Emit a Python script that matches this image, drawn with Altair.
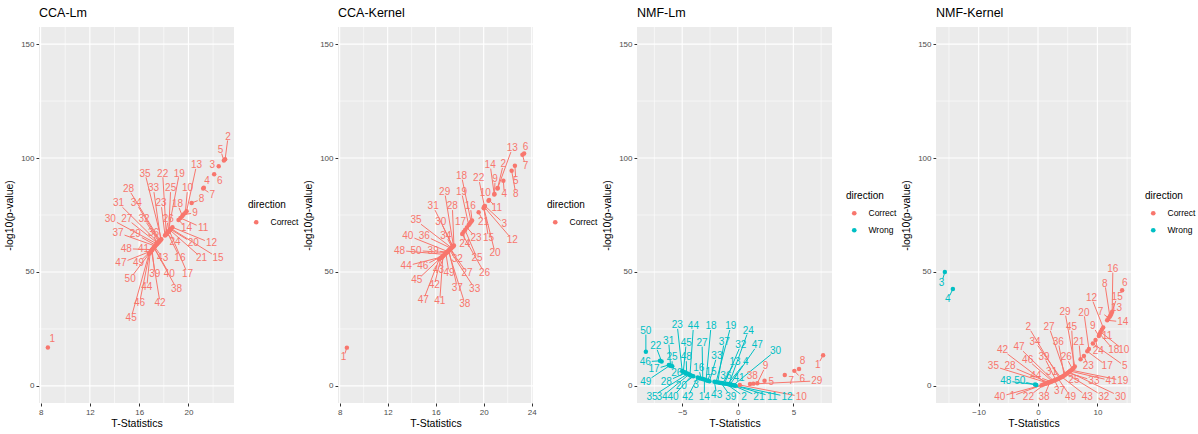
import math
import altair as alt
import pandas as pd

FONT = "Liberation Sans"
COLORS = {"Correct": "#F8766D", "Wrong": "#00BFC4"}
ids = list(range(1, 51))

# ---------------- CCA-Lm ----------------
cca_lm_t = [8.59, 22.98, 22.46, 21.25, 22.88, 22.09, 21.20, 20.26, 19.60, 19.75,
            19.35, 18.70, 19.85, 19.20, 18.60, 18.30, 18.45, 19.50, 18.35, 18.55,
            18.50, 18.20, 18.10, 18.25, 18.40, 18.15, 17.50, 17.70, 17.35, 17.45,
            17.55, 17.60, 17.75, 17.65, 17.80, 17.40, 17.30, 17.20, 17.05, 17.20,
            17.10, 17.00, 17.25, 16.90, 16.80, 16.85, 16.98, 17.05, 17.15, 16.95]
cca_lm_p = [16.9, 99.5, 96.4, 87.0, 98.9, 92.9, 86.6, 80.3, 75.2, 76.0,
            73.7, 69.6, 76.6, 72.8, 69.0, 67.2, 68.1, 74.6, 67.5, 68.7,
            68.4, 66.6, 66.0, 66.9, 67.8, 66.3, 62.6, 63.8, 61.7, 62.3,
            62.9, 63.2, 64.1, 63.5, 64.4, 62.0, 61.4, 60.7, 59.7, 60.8,
            60.1, 59.4, 61.1, 58.7, 58.0, 58.3, 59.2, 59.8, 60.4, 59.0]
cca_lm_dir = ["Correct"] * 50
cca_lm_lab_t = [8.94, 23.22, 21.93, 21.52, 22.60, 22.55, 21.93, 21.06, 20.53, 19.93,
                21.20, 21.87, 20.66, 19.85, 22.41, 19.31, 19.93, 19.12, 19.26, 20.39,
                21.06, 17.91, 17.78, 18.91, 18.56, 18.37, 15.00, 15.14, 15.68, 13.66,
                14.33, 16.40, 17.16, 15.76, 16.48, 17.16, 14.28, 19.04, 17.27, 18.45,
                16.35, 17.70, 17.91, 16.62, 15.35, 16.03, 14.52, 14.95, 15.95, 15.27]
cca_lm_lab_p = [20.4, 109.4, 96.9, 89.9, 103.6, 89.9, 83.8, 81.9, 75.9, 86.7,
                69.2, 62.6, 96.9, 69.2, 56.2, 56.2, 49.2, 79.8, 93.2, 62.6,
                56.2, 93.2, 80.1, 63.1, 86.7, 73.3, 73.3, 86.4, 66.7, 73.3,
                80.1, 73.3, 86.7, 80.1, 93.2, 67.2, 67.2, 42.7, 49.2, 49.2,
                60.2, 36.4, 56.1, 43.3, 29.9, 36.4, 53.9, 60.2, 53.9, 47.1]

# ---------------- CCA-Kernel ----------------
cca_k_t = [8.60, 21.15, 20.10, 21.64, 22.60, 23.37, 23.23, 22.33, 20.90, 20.40,
           20.45, 20.05, 21.17, 20.88, 20.00, 19.03, 18.85, 18.95, 18.75, 20.02,
           19.58, 20.07, 18.60, 18.33, 18.45, 18.21, 17.20, 17.52, 17.48, 17.40,
           17.44, 17.24, 17.15, 17.36, 17.32, 17.28, 17.10, 17.05, 16.95, 17.00,
           16.60, 16.45, 16.80, 16.52, 16.38, 16.65, 16.29, 16.75, 16.85, 16.90]
cca_k_p = [16.8, 86.6, 79.0, 90.0, 96.6, 102.0, 101.4, 94.4, 84.2, 81.3,
           81.6, 78.5, 86.8, 84.0, 78.2, 72.6, 71.3, 72.0, 70.6, 78.0,
           76.2, 78.7, 69.5, 67.6, 68.4, 66.7, 60.0, 61.6, 61.4, 61.0,
           61.2, 60.2, 59.7, 60.8, 60.6, 60.4, 59.5, 59.2, 58.7, 59.0,
           56.9, 56.3, 58.0, 56.6, 56.0, 57.2, 55.6, 57.7, 58.2, 58.5]
cca_k_dir = ["Correct"] * 50
cca_k_lab_t = [8.33, 21.64, 21.72, 21.72, 22.68, 23.48, 23.48, 22.68, 20.95, 20.13,
               21.09, 22.38, 22.38, 20.54, 20.40, 18.89, 18.07, 18.15, 18.15, 20.95,
               19.99, 19.58, 19.36, 18.43, 19.44, 20.07, 18.62, 17.39, 16.75, 16.42,
               15.79, 17.80, 19.25, 16.84, 14.37, 15.05, 17.80, 18.43, 15.79, 13.68,
               16.34, 15.88, 16.23, 13.54, 14.42, 14.92, 14.97, 12.99, 17.11, 14.37]
cca_k_lab_p = [12.5, 97.3, 71.1, 84.2, 89.9, 105.0, 96.6, 84.2, 90.8, 84.5,
               78.1, 64.2, 104.3, 97.0, 65.0, 78.8, 72.1, 92.2, 85.2, 58.3,
               71.8, 91.1, 65.0, 62.4, 56.1, 49.5, 49.5, 78.8, 85.2, 72.1,
               78.8, 55.8, 42.7, 66.0, 72.6, 66.0, 43.1, 36.1, 59.4, 66.0,
               37.2, 44.1, 51.0, 52.6, 46.3, 52.6, 37.6, 59.4, 49.5, 59.4]

# ---------------- NMF-Lm ----------------
nmf_lm_t = [7.68, -1.05, -3.45, -0.90, 2.41, 5.09, 4.23, 5.51, 1.76, 0.18,
            -0.30, -0.20, -1.35, -3.00, -2.70, -3.30, -6.20, -2.85, -1.95, -4.00,
            -0.50, -6.85, -5.00, -0.80, -5.90, -4.80, -3.15, -4.70, 1.10, -0.40,
            -6.05, -1.20, -2.55, -4.40, -4.50, -1.65, -1.80, 1.40, -1.50, -4.15,
            -0.60, -3.60, -2.10, -4.30, -4.90, -7.00, -0.70, -4.60, -6.10, -8.27]
nmf_lm_p = [13.5, 0.9, 3.4, 0.8, 2.3, 6.6, 4.8, 7.4, 1.2, 0.4,
            0.2, 0.1, 1.15, 2.8, 2.3, 3.2, 9.2, 2.5, 1.7, 4.2,
            0.4, 10.7, 6.5, 0.7, 8.6, 6.0, 3.0, 5.7, 0.8, 0.3,
            8.9, 1.0, 2.0, 5.0, 5.3, 1.4, 1.55, 1.0, 1.3, 4.5,
            0.5, 3.7, 1.8, 4.8, 6.2, 11.0, 0.6, 5.5, 9.0, 15.0]
nmf_lm_dir = ["Correct", "Wrong", "Wrong", "Wrong", "Correct", "Correct", "Correct", "Correct", "Correct", "Correct",
              "Wrong", "Wrong", "Wrong", "Wrong", "Wrong", "Wrong", "Wrong", "Wrong", "Wrong", "Wrong",
              "Wrong", "Wrong", "Wrong", "Wrong", "Wrong", "Wrong", "Wrong", "Wrong", "Correct", "Wrong",
              "Wrong", "Wrong", "Wrong", "Wrong", "Wrong", "Wrong", "Wrong", "Correct", "Wrong", "Wrong",
              "Wrong", "Wrong", "Wrong", "Wrong", "Wrong", "Wrong", "Wrong", "Wrong", "Wrong", "Wrong"]
nmf_lm_lab_t = [7.20, 0.57, -3.75, 0.71, 3.01, 5.80, 4.82, 5.83, 2.50, 5.71,
                3.10, 4.43, -0.24, -3.01, -2.41, -3.51, -7.53, -2.41, -0.63, -5.09,
                1.90, -7.38, -5.45, 0.95, -5.92, -5.48, -3.21, -6.43, 7.11, 3.39,
                -6.22, 0.27, -1.88, -6.82, -7.71, -1.07, -1.22, 1.31, -0.63, -5.83,
                0.12, -4.49, -1.90, -3.99, -4.64, -8.33, 1.76, -4.64, -8.27, -8.27]
nmf_lm_lab_p = [9.2, -4.7, 0.4, 10.6, 1.9, 2.9, 2.3, 10.9, 8.7, -4.7,
                -4.7, -4.7, 10.6, -4.7, 6.3, 7.7, 7.3, 26.2, 26.2, 0.1,
                -4.7, 17.5, 26.7, 24.2, 12.5, 5.5, 18.9, 1.9, 2.2, 15.4,
                19.8, 17.9, 13.1, -4.7, -4.7, 4.4, 19.4, 4.4, -4.7, -4.7,
                3.6, -4.7, -3.9, 26.2, 18.9, 10.6, 17.9, 12.5, 1.9, 24.2]

# ---------------- NMF-Kernel ----------------
nmf_k_t = [0.90, 3.60, -15.69, -14.34, 9.24, 14.17, 11.90, 12.10, 10.25, 10.53,
           10.75, 10.98, 12.21, 11.65, 12.35, 12.49, 8.30, 10.40, 5.60, 8.57,
           7.17, 1.20, 7.73, 9.69, 4.20, 5.80, 4.60, 1.80, 6.20, 5.20,
           3.20, 4.80, 5.00, 3.80, 1.60, 4.40, 2.80, 2.00, 3.00, 0.60,
           5.40, 1.40, 4.00, 2.20, 6.00, 2.40, 2.60, -0.50, 3.40, -0.28]
nmf_k_p = [0.6, 3.4, 50.0, 42.5, 18.6, 42.0, 29.8, 30.5, 21.9, 23.7,
           24.6, 25.6, 31.0, 28.8, 31.7, 32.5, 15.2, 22.8, 6.9, 16.2,
           11.7, 0.9, 13.1, 20.1, 4.25, 7.4, 4.95, 1.45, 8.5, 6.1,
           2.9, 5.3, 5.7, 3.65, 1.3, 4.6, 2.45, 1.65, 2.65, 0.3,
           6.5, 1.1, 3.95, 1.85, 7.9, 2.05, 2.25, 0.6, 3.15, 0.4]
nmf_k_dir = ["Correct", "Correct", "Wrong", "Wrong", "Correct", "Correct", "Correct", "Correct", "Correct", "Correct",
             "Correct", "Correct", "Correct", "Correct", "Correct", "Correct", "Correct", "Correct", "Correct", "Correct",
             "Correct", "Correct", "Correct", "Correct", "Correct", "Correct", "Correct", "Correct", "Correct", "Correct",
             "Correct", "Correct", "Correct", "Correct", "Correct", "Correct", "Correct", "Correct", "Correct", "Correct",
             "Correct", "Correct", "Correct", "Correct", "Correct", "Correct", "Correct", "Wrong", "Correct", "Wrong"]
nmf_k_lab_t = [-4.31, -1.62, -16.25, -15.18, 14.62, 14.62, 10.53, 11.26, 9.24, 14.45,
               11.65, 9.02, 13.22, 14.29, 13.33, 12.61, 11.65, 12.77, 14.29, 7.73,
               6.89, -1.62, 8.46, 10.14, 6.05, 4.76, 1.85, -4.71, 4.54, 13.89,
               2.30, 11.09, 9.41, -0.50, -7.51, 3.42, 3.64, 1.01, 1.01, -6.44,
               12.32, -5.99, 8.29, -0.39, 5.66, -1.74, -3.19, -5.43, 5.49, -3.08]
nmf_k_lab_p = [-4.4, 25.9, 45.2, 38.0, 8.7, 45.2, 32.5, 44.9, 26.2, 15.7,
               22.0, 38.6, 34.4, 28.1, 39.0, 51.4, 8.7, 15.7, 2.3, 32.2,
               19.4, -4.7, 8.7, 15.4, 2.6, 12.5, 25.9, 8.7, 32.5, -4.7,
               6.3, -4.7, 2.3, 19.4, 8.7, 19.4, -2.2, -4.7, 12.8, -4.7,
               2.3, 15.7, -4.7, 4.4, 25.9, 11.4, 16.9, 2.2, -4.7, 2.2]

y_ticks = [0, 50, 100, 150]
y_minor = [25, 75, 125]
y_limits = [0, 150]

W, H = 195, 376
LABEL_SIZE = 10


def build_panel(title, t, p, dirs, lt, lp, xmajor, xminor, legend_y):
    lo, hi = min(t), max(t)
    ext = (hi - lo) * 0.05
    xdom = [lo - ext, hi + ext]
    yext = (y_limits[1] - y_limits[0]) * 0.05
    ydom = [y_limits[0] - yext, y_limits[1] + yext]

    def to_px(x, y):
        return ((x - xdom[0]) / (xdom[1] - xdom[0]) * W,
                H - (y - ydom[0]) / (ydom[1] - ydom[0]) * H)

    def to_data(a, b):
        return (xdom[0] + a / W * (xdom[1] - xdom[0]),
                ydom[0] + (H - b) / H * (ydom[1] - ydom[0]))

    pts = pd.DataFrame({"id": ids, "t": t, "p": p, "direction": dirs,
                        "lt": lt, "lp": lp, "label": [str(i) for i in ids]})
    segs = []
    for i in range(len(ids)):
        ppx, ppy = to_px(t[i], p[i])
        lpx, lpy = to_px(lt[i], lp[i])
        hw = len(str(ids[i])) * LABEL_SIZE * 0.28 + 1.0
        hh = LABEL_SIZE * 0.38
        dx, dy = ppx - lpx, ppy - lpy
        s = min(hw / abs(dx) if abs(dx) > 1e-9 else 1e9,
                hh / abs(dy) if abs(dy) > 1e-9 else 1e9)
        if s >= 1:
            continue
        ex, ey = lpx + dx * s, lpy + dy * s
        if math.hypot(ppx - ex, ppy - ey) < 5:
            continue
        dxe, dye = to_data(ex, ey)
        segs.append({"t": t[i], "p": p[i], "et": dxe, "ep": dye, "direction": dirs[i]})
    segs = pd.DataFrame(segs)

    present = [c for c in ["Correct", "Wrong"] if c in dirs]
    cscale = alt.Scale(domain=present, range=[COLORS[c] for c in present])
    legend = alt.Legend(orient="none", legendX=209, legendY=legend_y, title="direction",
                        titleFont=FONT, titleFontSize=10, titleFontWeight="normal",
                        titleColor="black", titlePadding=8, labelFont=FONT,
                        labelFontSize=8.5, labelColor="black", symbolType="circle",
                        symbolSize=22, symbolStrokeWidth=0, rowPadding=8,
                        symbolOffset=4, labelOffset=10, padding=0)
    color = alt.Color("direction:N", scale=cscale, legend=legend)

    xscale = alt.Scale(domain=xdom, nice=False, zero=False)
    yscale = alt.Scale(domain=ydom, nice=False, zero=False)
    xaxis = alt.Axis(values=xmajor, title="T-Statistics", grid=False, labelFlush=False,
                     labelOverlap=False, format="d")
    yaxis = alt.Axis(values=y_ticks, title="-log10(p-value)", grid=False, labelFlush=False,
                     labelOverlap=False, format="d")

    xmaj = pd.DataFrame({"v": [v for v in xmajor if xdom[0] <= v <= xdom[1]]})
    xmin = pd.DataFrame({"v": [v for v in xminor if xdom[0] <= v <= xdom[1]]})
    ymaj = pd.DataFrame({"v": y_ticks})
    ymin = pd.DataFrame({"v": y_minor})

    g_xmin = alt.Chart(xmin).mark_rule(color="white", strokeWidth=0.55).encode(
        x=alt.X("v:Q", scale=xscale, axis=xaxis))
    g_xmaj = alt.Chart(xmaj).mark_rule(color="white", strokeWidth=1.1).encode(
        x=alt.X("v:Q", scale=xscale, axis=xaxis))
    g_ymin = alt.Chart(ymin).mark_rule(color="white", strokeWidth=0.55).encode(
        y=alt.Y("v:Q", scale=yscale, axis=yaxis))
    g_ymaj = alt.Chart(ymaj).mark_rule(color="white", strokeWidth=1.1).encode(
        y=alt.Y("v:Q", scale=yscale, axis=yaxis))

    seg = alt.Chart(segs).mark_rule(strokeWidth=1.0).encode(
        x=alt.X("t:Q", scale=xscale, axis=xaxis),
        y=alt.Y("p:Q", scale=yscale, axis=yaxis),
        x2="et:Q", y2="ep:Q", color=color)
    dots = alt.Chart(pts).mark_circle(size=20, opacity=1).encode(
        x=alt.X("t:Q", scale=xscale, axis=xaxis),
        y=alt.Y("p:Q", scale=yscale, axis=yaxis),
        color=color)
    txt = alt.Chart(pts).mark_text(font=FONT, fontSize=LABEL_SIZE, align="center",
                                   baseline="middle").encode(
        x=alt.X("lt:Q", scale=xscale, axis=xaxis),
        y=alt.Y("lp:Q", scale=yscale, axis=yaxis),
        text="label:N", color=color)

    return alt.layer(g_xmin, g_xmaj, g_ymin, g_ymaj, seg, dots, txt).properties(
        width=W, height=H,
        title=alt.TitleParams(text=title, anchor="start", fontSize=12.5, fontWeight="normal",
                              font=FONT, color="black", offset=7, frame="group"))


p1 = build_panel("CCA-Lm", cca_lm_t, cca_lm_p, cca_lm_dir, cca_lm_lab_t, cca_lm_lab_p,
                 [8, 12, 16, 20], [10, 14, 18, 22], 173)
p2 = build_panel("CCA-Kernel", cca_k_t, cca_k_p, cca_k_dir, cca_k_lab_t, cca_k_lab_p,
                 [8, 12, 16, 20, 24], [10, 14, 18, 22], 173)
p3 = build_panel("NMF-Lm", nmf_lm_t, nmf_lm_p, nmf_lm_dir, nmf_lm_lab_t, nmf_lm_lab_p,
                 [-5, 0, 5], [-7.5, -2.5, 2.5, 7.5], 164)
p4 = build_panel("NMF-Kernel", nmf_k_t, nmf_k_p, nmf_k_dir, nmf_k_lab_t, nmf_k_lab_p,
                 [-10, 0, 10], [-15, -5, 5, 15], 164)

chart = alt.hconcat(p1, p2, p3, p4, spacing=104, bounds="flush").resolve_scale(
    color="independent", x="independent", y="independent"
).properties(
    padding={"left": 4, "top": 6, "right": 0, "bottom": 0},
    background="white",
).configure_view(
    fill="#EBEBEB", strokeWidth=0
).configure_axis(
    labelFont=FONT, titleFont=FONT, labelFontSize=8, titleFontSize=10.5,
    labelColor="#4D4D4D", titleColor="black", tickColor="#333333", tickSize=3,
    tickWidth=1, domain=False, titleFontWeight="normal", labelPadding=2
).configure_axisX(titlePadding=2).configure_axisY(titlePadding=6)

chart.save("out.html", embed_options={"renderer": "svg", "actions": False})
